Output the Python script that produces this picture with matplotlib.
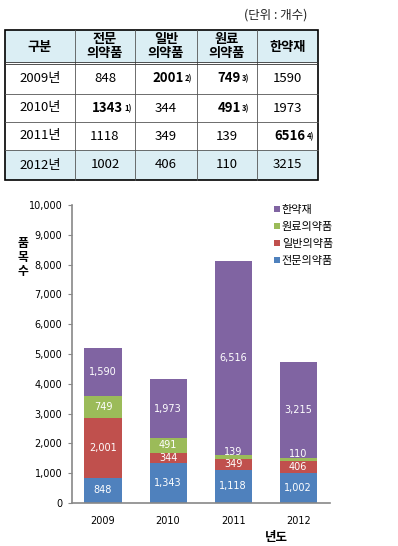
#!/usr/bin/env python3
# -*- coding: utf-8 -*-

import numpy as np
import matplotlib
matplotlib.use("Agg")
import matplotlib.pyplot as plt
from matplotlib.patches import Rectangle, Patch

plt.rcParams['font.family'] = ['Noto Sans CJK KR', 'DejaVu Sans']

# DATA ########################################################################

years = ["2009", "2010", "2011", "2012"]
row_labels = ["2009년", "2010년", "2011년", "2012년"]
col_labels = ["구분", "전문\n의약품", "일반\n의약품", "원료\n의약품", "한약재"]
series_names = ["전문의약품", "일반의약품", "원료의약품", "한약재"]

etc_drugs = [848, 1343, 1118, 1002]       # 전문의약품
otc_drugs = [2001, 344, 349, 406]         # 일반의약품
raw_drugs = [749, 491, 139, 110]          # 원료의약품
herbal = [1590, 1973, 6516, 3215]         # 한약재

# (row, col) -> footnote mark, bold cells in the table
footnotes = {(0, 1): "2)", (0, 2): "3)", (1, 0): "1)", (1, 2): "3)", (2, 3): "4)"}

colors = ["#4F81BD", "#C0504D", "#9BBB59", "#8064A2"]

W, H = 398, 546

fig = plt.figure(figsize=(W / 100, H / 100), dpi=100)

# TABLE (drawn in pixel coordinates) ##########################################

ax_t = fig.add_axes([0, 0, 1, 1])
ax_t.set_xlim(0, W)
ax_t.set_ylim(H, 0)
ax_t.axis("off")

col_x = [5, 75, 135, 197, 257, 318]
row_y = [30, 63, 94, 122, 150, 180]
fill = "#DBEEF4"

ax_t.add_patch(Rectangle((col_x[0], row_y[0]), col_x[-1] - col_x[0], row_y[1] - row_y[0],
                         facecolor=fill, edgecolor="none"))
ax_t.add_patch(Rectangle((col_x[0], row_y[4]), col_x[-1] - col_x[0], row_y[5] - row_y[4],
                         facecolor=fill, edgecolor="none"))

for x in col_x[1:-1]:
    ax_t.plot([x, x], [row_y[0], row_y[-1]], color="#555555", lw=0.6)
for y in row_y[2:-1]:
    ax_t.plot([col_x[0], col_x[-1]], [y, y], color="#555555", lw=0.6)
ax_t.plot([col_x[0], col_x[-1]], [row_y[1] - 1.2, row_y[1] - 1.2], color="#333333", lw=0.6)
ax_t.plot([col_x[0], col_x[-1]], [row_y[1] + 1.2, row_y[1] + 1.2], color="#333333", lw=0.6)
ax_t.add_patch(Rectangle((col_x[0], row_y[0]), col_x[-1] - col_x[0], row_y[-1] - row_y[0],
                         facecolor="none", edgecolor="black", lw=1.2))

ax_t.text(307, 15, "(단위 : 개수)", ha="right", va="center", fontsize=9, color="#222222")

for j, lab in enumerate(col_labels):
    cx = (col_x[j] + col_x[j + 1]) / 2
    cy = (row_y[0] + row_y[1]) / 2
    ax_t.text(cx, cy, lab, ha="center", va="center", fontsize=9.5, fontweight="bold",
              linespacing=1.0)

table_values = np.array([etc_drugs, otc_drugs, raw_drugs, herbal]).T
for i, lab in enumerate(row_labels):
    cy = (row_y[i + 1] + row_y[i + 2]) / 2
    ax_t.text((col_x[0] + col_x[1]) / 2, cy, lab, ha="center", va="center", fontsize=9.5)
    for j in range(4):
        cx = (col_x[j + 1] + col_x[j + 2]) / 2
        v = str(table_values[i, j])
        if (i, j) in footnotes:
            t = ax_t.text(cx + 2, cy, v, ha="center", va="center", fontsize=9.5,
                          fontweight="bold")
            ax_t.annotate(footnotes[(i, j)], xy=(1, 1), xycoords=t, xytext=(1, -2),
                          textcoords="offset points", fontsize=5.5, fontweight="bold",
                          ha="left", va="top")
        else:
            ax_t.text(cx, cy, v, ha="center", va="center", fontsize=9.5)

# STACKED BAR CHART ###########################################################

ax = fig.add_axes([72 / W, 43 / H, 258 / W, 298 / H])
x = np.arange(len(years))
series = [etc_drugs, otc_drugs, raw_drugs, herbal]
bottom = np.zeros(len(years))
for vals, c, name in zip(series, colors, series_names):
    vals = np.array(vals)
    ax.bar(x, vals, width=0.57, bottom=bottom, color=c, edgecolor="none", label=name)
    for xi, b, v in zip(x, bottom, vals):
        # thin segments: label sits a little above the segment centre
        ypos = b + v / 2 + (170 if v < 200 else 0)
        ax.text(xi, ypos, f"{v:,}", ha="center", va="center", color="white",
                fontsize=7, family="DejaVu Sans")
    bottom += vals

ax.set_xlim(-0.477, 3.49)
ax.set_ylim(0, 10000)
ax.set_yticks(np.arange(0, 10001, 1000))
ax.set_yticklabels([f"{v:,}" for v in range(0, 10001, 1000)], fontsize=7,
                   family="DejaVu Sans")
ax.set_xticks(x)
ax.set_xticklabels(years, fontsize=7, family="DejaVu Sans")
ax.tick_params(axis="x", length=0, pad=9)
ax.tick_params(axis="y", length=3, color="#888888", pad=4)
for s in ["top", "right"]:
    ax.spines[s].set_visible(False)
for s in ["left", "bottom"]:
    ax.spines[s].set_color("#888888")
    ax.spines[s].set_linewidth(1.2)

fig.text(23 / W, 1 - 257 / H, "품\n목\n수", ha="center", va="center", fontsize=8.5,
         fontweight="bold", linespacing=1.1)
fig.text(276 / W, 1 - 537 / H, "년도", ha="center", va="center", fontsize=9,
         fontweight="bold")

leg_handles = [Patch(facecolor=c, edgecolor="none") for c in colors][::-1]
fig.legend(leg_handles, series_names[::-1], loc="upper left",
           bbox_to_anchor=(274 / W, 1 - 205 / H), frameon=False, fontsize=8,
           handlelength=0.5, handleheight=0.5, handletextpad=0.2, labelspacing=0.62,
           borderaxespad=0, borderpad=0)

fig.savefig("out.png", dpi=100)
